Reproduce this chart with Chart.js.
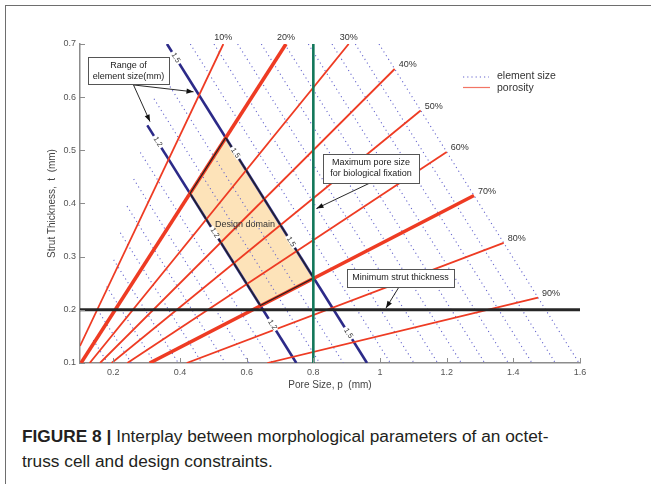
<!DOCTYPE html>
<html lang="en">
<head>
<meta charset="UTF-8">
<title>Figure 8 - octet-truss design domain</title>
<script src="https://cdn.jsdelivr.net/npm/chart.js"></script>
<style>
    body {
        margin: 0;
        background: #fff;
        font-family: "Liberation Sans", Arial, sans-serif;
    }
    .frame {
        position: absolute;
        left: 5px;
        top: 5px;
        width: 700px;
        height: 520px;
        border-left: 1.5px solid #6e6e6e;
        border-top: 1.5px solid #6e6e6e;
    }
    .plot {
        position: absolute;
        left: 0;
        top: 0;
    }
    .caption {
        position: absolute;
        left: 22px;
        top: 424px;
        font-size: 17.3px;
        line-height: 25px;
        color: #231f20;
    }
</style>
</head>
<body>
<div class="frame"></div>
<div class="plot"><canvas id="chart" width="651" height="400"></canvas></div>
<div class="caption"><b>FIGURE 8 |</b> Interplay between morphological parameters of an octet-<br>truss cell and design constraints.</div>

<script>
// tick values
const xTicks = [0.2, 0.4, 0.6, 0.8, 1, 1.2, 1.4, 1.6];
const yTicks = [0.1, 0.2, 0.3, 0.4, 0.5, 0.6, 0.7];

// porosity lines (pore size p, strut thickness t at both ends)
const porosityLabels = ['10%', '20%', '30%', '40%', '50%', '60%', '70%', '80%', '90%'];
const poroStartP = [0.100, 0.103, 0.129, 0.160, 0.195, 0.242, 0.309, 0.420, 0.662];
const poroStartT = [0.132, 0.100, 0.100, 0.100, 0.100, 0.100, 0.100, 0.100, 0.100];
const poroEndP   = [0.530, 0.718, 0.906, 1.044, 1.122, 1.200, 1.282, 1.371, 1.474];
const poroEndT   = [0.700, 0.700, 0.700, 0.653, 0.575, 0.497, 0.415, 0.326, 0.223];

// element size lines (mm), every line ends on t = 0.1
const elementSizes = [0.4, 0.5, 0.6, 0.7, 0.8, 0.9, 1.0, 1.1, 1.2, 1.3, 1.4, 1.5,
                      1.6, 1.7, 1.8, 1.9, 2.0, 2.1, 2.2, 2.3, 2.4];
const elemStartP = [0.140, 0.160, 0.180, 0.201, 0.221, 0.241, 0.261, 0.281, 0.302, 0.322, 0.342, 0.361,
                    0.431, 0.502, 0.573, 0.644, 0.714, 0.785, 0.856, 0.926, 0.997];
const elemStartT = [0.143, 0.193, 0.244, 0.294, 0.345, 0.395, 0.446, 0.496, 0.547, 0.597, 0.648, 0.700,
                    0.700, 0.700, 0.700, 0.700, 0.700, 0.700, 0.700, 0.700, 0.700];
const elemEndP   = [0.183, 0.254, 0.324, 0.395, 0.466, 0.536, 0.607, 0.678, 0.749, 0.819, 0.890, 0.961,
                    1.031, 1.102, 1.173, 1.244, 1.314, 1.385, 1.456, 1.526, 1.597];
const elemEndT = 0.1;

// range of element size and the design domain corners
const sizeRange = [1.2, 1.5];
const domainP = [0.537, 0.430, 0.641, 0.801];
const domainT = [0.524, 0.419, 0.208, 0.260];

// constraints
const maxPoreSize = 0.8;
const minStrut = 0.2;

// ---- styles ----
const red = '#ee3b23';
const navy = '#2c2a88';
const dotBlue = '#6262cc';
const thickPorosity = ['20%', '70%'];
const axisColor = '#8c8c8c';
const textColor = '#444';
const FONT = '"Liberation Sans", Arial, sans-serif';

// where the size labels sit on the two range lines (given as t)
const sizeLabelT = { 1.2: [0.516, 0.345, 0.172], 1.5: [0.674, 0.495, 0.328, 0.156] };

// annotation boxes, anchor in data units
const notes = [
    { lines: ['Range of', 'element size(mm)'], p: 0.2455, t: 0.650, w: 81, h: 27,
      arrows: [[0.2605, 0.623, 0.4405, 0.610], [0.2605, 0.623, 0.310, 0.554]] },
    { lines: ['Maximum pore size', 'for biological fixation'], p: 0.973, t: 0.466, w: 96, h: 29,
      arrows: [[0.970, 0.4386, 0.8095, 0.3906]] },
    { lines: ['Minimum strut thickness'], p: 1.0615, t: 0.260, w: 107, h: 18,
      arrows: [[1.057, 0.243, 1.018, 0.2034]] }
];

const pt = (p, t) => ({ x: p, y: t });
const datasets = [];

// design domain fill
datasets.push({
    data: domainP.map((p, i) => pt(p, domainT[i])),
    fill: 'shape', backgroundColor: '#fde3b9', borderWidth: 0, order: 100
});

// dotted element size lines
elementSizes.forEach((L, i) => {
    datasets.push({
        data: [pt(elemStartP[i], elemStartT[i]), pt(elemEndP[i], elemEndT)],
        borderColor: dotBlue, borderWidth: 1.1, borderDash: [1.1, 3.3], order: 90
    });
});

// range of element size (solid navy)
sizeRange.forEach(L => {
    const i = elementSizes.indexOf(L);
    datasets.push({
        data: [pt(elemStartP[i], elemStartT[i]), pt(elemEndP[i], elemEndT)],
        borderColor: navy, borderWidth: 2.6, order: 80
    });
});

// porosity lines
porosityLabels.forEach((lab, i) => {
    datasets.push({
        data: [pt(poroStartP[i], poroStartT[i]), pt(poroEndP[i], poroEndT[i])],
        borderColor: red, borderWidth: thickPorosity.includes(lab) ? 3.6 : 1.8, order: 70
    });
});

// design domain outline
datasets.push({
    data: domainP.concat(domainP[0]).map((p, i) => pt(p, domainT.concat(domainT[0])[i])),
    borderColor: '#222', borderWidth: 1.2, order: 60
});

// minimum strut thickness and maximum pore size
datasets.push({
    data: [pt(0.1, minStrut), pt(1.6, minStrut)],
    borderColor: '#262626', borderWidth: 3, order: 50
});
datasets.push({
    data: [pt(maxPoreSize, 0.1), pt(maxPoreSize, 0.7)],
    borderColor: '#12775a', borderWidth: 2.6, order: 40
});

function arrow(ctx, x1, y1, x2, y2) {
    const a = Math.atan2(y2 - y1, x2 - x1);
    ctx.beginPath();
    ctx.moveTo(x1, y1);
    ctx.lineTo(x2, y2);
    ctx.stroke();
    ctx.beginPath();
    ctx.moveTo(x2, y2);
    ctx.lineTo(x2 - 7 * Math.cos(a) + 2.6 * Math.sin(a), y2 - 7 * Math.sin(a) - 2.6 * Math.cos(a));
    ctx.lineTo(x2 - 7 * Math.cos(a) - 2.6 * Math.sin(a), y2 - 7 * Math.sin(a) + 2.6 * Math.cos(a));
    ctx.closePath();
    ctx.fill();
}

const extras = {
    id: 'extras',
    afterDatasetsDraw(chart) {
        const { ctx, chartArea } = chart;
        const xs = chart.scales.x, ys = chart.scales.y;
        const X = v => xs.getPixelForValue(v);
        const Y = v => ys.getPixelForValue(v);
        ctx.save();

        // inward ticks
        ctx.strokeStyle = axisColor;
        ctx.lineWidth = 1;
        xTicks.forEach(v => {
            ctx.beginPath();
            ctx.moveTo(Math.round(X(v)) + 0.5, chartArea.bottom);
            ctx.lineTo(Math.round(X(v)) + 0.5, chartArea.bottom - 5);
            ctx.stroke();
        });
        yTicks.forEach(v => {
            ctx.beginPath();
            ctx.moveTo(chartArea.left, Math.round(Y(v)) + 0.5);
            ctx.lineTo(chartArea.left + 5, Math.round(Y(v)) + 0.5);
            ctx.stroke();
        });

        // labels on the element size range lines
        const ang = Math.atan2(Y(0) - Y(1), X(1) - X(0));
        ctx.font = '7.5px ' + FONT;
        ctx.textAlign = 'center';
        ctx.textBaseline = 'middle';
        sizeRange.forEach(L => {
            const i = elementSizes.indexOf(L);
            const s = elemEndP[i] + elemEndT;
            sizeLabelT[L].forEach(t => {
                ctx.save();
                ctx.translate(X(s - t), Y(t));
                ctx.rotate(ang);
                ctx.globalCompositeOperation = 'destination-out';
                ctx.fillRect(-7, -2.5, 14, 5);
                ctx.globalCompositeOperation = 'source-over';
                ctx.fillStyle = '#333';
                ctx.fillText(L.toFixed(1), 0, 0);
                ctx.restore();
            });
        });

        // porosity labels
        ctx.font = '9px ' + FONT;
        ctx.fillStyle = '#333';
        porosityLabels.forEach((lab, i) => {
            const x = X(poroEndP[i]), y = Y(poroEndT[i]);
            if (poroEndT[i] >= 0.7) {
                ctx.textAlign = 'center';
                ctx.fillText(lab, x, y - 6);
            } else {
                ctx.textAlign = 'left';
                ctx.fillText(lab, x + 4, y - 4);
            }
        });

        // design domain text
        ctx.textAlign = 'center';
        ctx.fillStyle = '#333';
        ctx.fillText('Design domain', X(0.595), Y(0.3614));

        // annotation boxes with arrows
        notes.forEach(n => {
            ctx.strokeStyle = '#111';
            ctx.fillStyle = '#111';
            ctx.lineWidth = 0.9;
            n.arrows.forEach(a => arrow(ctx, X(a[0]), Y(a[1]), X(a[2]), Y(a[3])));
            const cx = X(n.p), cy = Y(n.t);
            const x0 = Math.round(cx - n.w / 2) + 0.5, y0 = Math.round(cy - n.h / 2) + 0.5;
            ctx.fillStyle = '#fff';
            ctx.fillRect(x0, y0, n.w, n.h);
            ctx.strokeStyle = '#555';
            ctx.lineWidth = 1;
            ctx.strokeRect(x0, y0, n.w, n.h);
            ctx.fillStyle = '#222';
            ctx.textAlign = 'center';
            const lh = 11;
            n.lines.forEach((s, k) => {
                ctx.fillText(s, cx, cy + (k - (n.lines.length - 1) / 2) * lh);
            });
        });

        // legend
        const lx = chartArea.left + 383, ly = chartArea.top + 33;
        ctx.lineWidth = 1.2;
        ctx.strokeStyle = dotBlue;
        ctx.setLineDash([1.2, 3]);
        ctx.beginPath();
        ctx.moveTo(lx, ly);
        ctx.lineTo(lx + 26, ly);
        ctx.stroke();
        ctx.setLineDash([]);
        ctx.strokeStyle = red;
        ctx.globalAlpha = 0.7;
        ctx.lineWidth = 1.2;
        ctx.beginPath();
        ctx.moveTo(lx, ly + 10.5);
        ctx.lineTo(lx + 27, ly + 10.5);
        ctx.stroke();
        ctx.globalAlpha = 1;
        ctx.font = '10.5px ' + FONT;
        ctx.fillStyle = '#333';
        ctx.textAlign = 'left';
        ctx.fillText('element size', lx + 34, ly - 1);
        ctx.fillText('porosity', lx + 34, ly + 11);

        ctx.restore();
    }
};

const tickFont = { family: FONT, size: 9 };
const titleFont = { family: FONT, size: 10 };

new Chart(document.getElementById('chart').getContext('2d'), {
    type: 'line',
    data: { datasets: datasets },
    options: {
        responsive: false,
        animation: false,
        devicePixelRatio: 1,
        elements: { point: { radius: 0 }, line: { tension: 0 } },
        layout: { padding: { left: 0, right: 71, top: 44, bottom: 0 } },
        plugins: { legend: { display: false }, tooltip: { enabled: false } },
        scales: {
            x: {
                type: 'linear', min: 0.1, max: 1.6,
                afterBuildTicks: s => { s.ticks = xTicks.map(v => ({ value: v })); },
                afterFit: s => { s.height = 37; },
                grid: { drawOnChartArea: false, drawTicks: false },
                border: { display: true, color: axisColor, width: 1.5 },
                ticks: { padding: 4, color: '#555', font: tickFont, maxRotation: 0, autoSkip: false,
                         callback: v => String(+v.toFixed(1)) },
                title: { display: true, text: 'Pore Size, p  (mm)', color: textColor, font: titleFont,
                         padding: { top: 0, bottom: 9 } }
            },
            y: {
                type: 'linear', min: 0.1, max: 0.7,
                afterBuildTicks: s => { s.ticks = yTicks.map(v => ({ value: v })); },
                afterFit: s => { s.width = 80; },
                grid: { drawOnChartArea: false, drawTicks: false },
                border: { display: true, color: axisColor, width: 1.5 },
                ticks: { padding: 4, color: '#555', font: tickFont, autoSkip: false,
                         callback: v => v.toFixed(1) },
                title: { display: true, text: 'Strut Thickness,  t  (mm)', color: textColor, font: titleFont,
                         padding: { top: 46, bottom: 0 } }
            }
        }
    },
    plugins: [extras]
});
</script>
</body>
</html>
